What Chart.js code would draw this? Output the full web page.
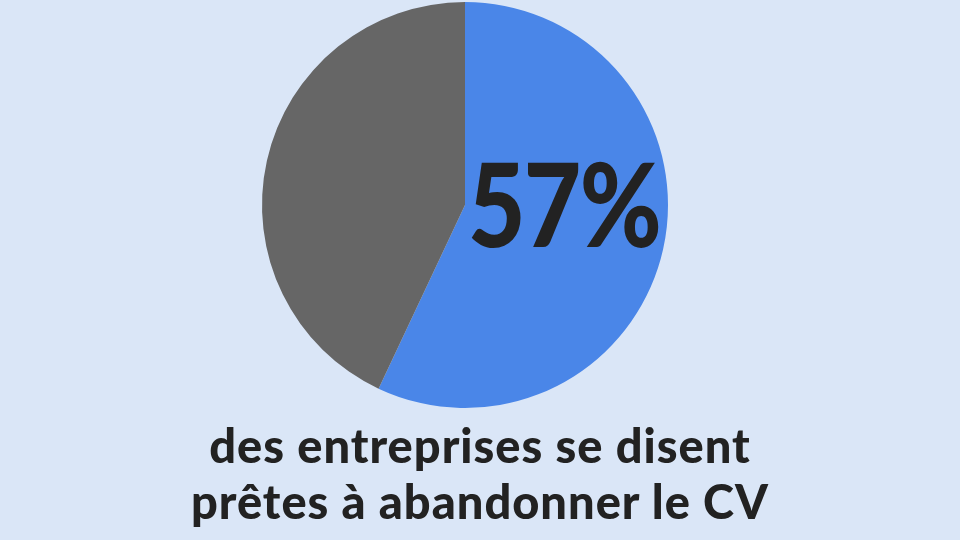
<!DOCTYPE html>
<html><head><meta charset="utf-8">
<script src="https://cdn.jsdelivr.net/npm/chart.js@4"></script>
<style>
html,body{margin:0;padding:0;background:#dae6f7;width:960px;height:540px;overflow:hidden;}
#wrap{position:relative;width:960px;height:540px;}
canvas{position:absolute;left:0;top:0;}
.t{position:absolute;font-family:"Lato","Inter",sans-serif;font-weight:900;color:#222222;white-space:nowrap;}
#big{left:468px;top:143px;font-size:116px;line-height:120px;letter-spacing:-2px;transform:scaleX(0.855);transform-origin:0 0;}
.cap{left:0;width:960px;text-align:center;font-size:47px;line-height:54px;letter-spacing:1px;}
#c1{top:418px;}
#c2{top:474px;}
</style></head>
<body><div id="wrap"><canvas id="c" width="960" height="540"></canvas>
<div class="t" id="big"></div>
<div class="t cap" id="c1"></div>
<div class="t cap" id="c2"></div>
</div>
<script>
const labels = ["Prêtes à abandonner le CV", "Autres"];
const values = [57, 43];
const colors = ["#4a86e8", "#666666"];
const headline = "57%";
const captionLines = ["des entreprises se disent", "prêtes à abandonner le CV"];

document.getElementById('big').textContent = headline;
document.getElementById('c1').textContent = captionLines[0];
document.getElementById('c2').textContent = captionLines[1];

new Chart(document.getElementById('c'), {
  type: 'pie',
  data: { labels: labels, datasets: [{ data: values, backgroundColor: colors, borderWidth: 0 }] },
  options: {
    responsive: false, animation: false,
    layout: { padding: { top: 2, bottom: 132, left: 262, right: 292 } },
    plugins: { legend: { display: false }, tooltip: { enabled: false } }
  }
});
</script></body></html>
